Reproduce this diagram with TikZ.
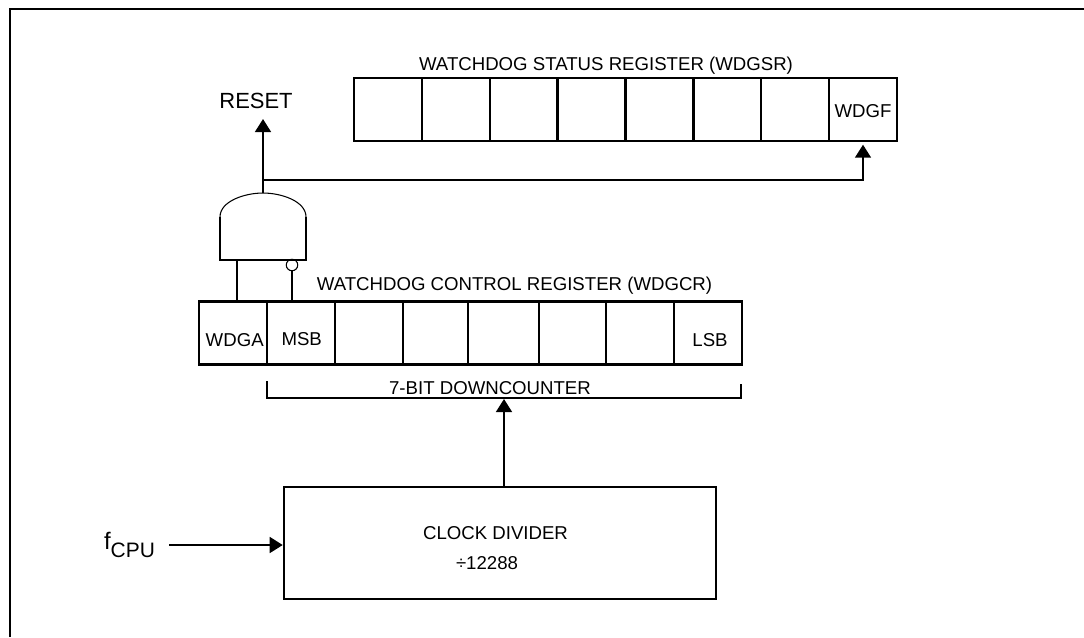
\documentclass[tikz,border=0pt]{standalone}
\usepackage{fontspec}
\setmainfont{Liberation Sans}
\usepackage{tikz}
\usetikzlibrary{arrows.meta}
\tikzset{
	wire/.style = {line width = 1.2pt},
	flow/.style = {wire, -{Triangle[length = 7.4pt, width = 9pt]}},
	regcell/.style = {draw, wire, rectangle, inner sep = 0pt, minimum height = 1.26cm},
	reglabel/.style = {inner sep = 0pt, font = \fontsize{10.6pt}{12pt}\selectfont, text height = 7.6pt, text depth = 0pt}
}
\begin{document}
\begin{tikzpicture}[x = 0.02cm, y = -0.02cm]
			\useasboundingbox (0,0) rectangle (1084,637);
			\draw[wire] (10,637) -- (10,9) -- (1084,9);
			% status register
			\node (sr1) at (388,109.5) [regcell, minimum width = 1.36cm] {};
			\node (sr2) at (456,109.5) [regcell, minimum width = 1.36cm] {};
			\node (sr3) at (523.7,109.5) [regcell, minimum width = 1.36cm] {};
			\node (sr4) at (591.5,109.5) [regcell, minimum width = 1.36cm] {};
			\node (sr5) at (659.5,109.5) [regcell, minimum width = 1.36cm] {};
			\node (sr6) at (727.3,109.5) [regcell, minimum width = 1.36cm] {};
			\node (sr7) at (795.2,109.5) [regcell, minimum width = 1.36cm] {};
			\node (wdgf) at (863,109.5) [regcell, minimum width = 1.36cm] {};
			\node (wdgftext) at (863,111) [reglabel] {WDGF};
			\node (srlabel) at (606,63.5) [reglabel] {WATCHDOG STATUS REGISTER (WDGSR)};
			% control register
			\node (wdga) at (233,333) [regcell, minimum width = 1.36cm] {};
			\node (msb) at (301,333) [regcell, minimum width = 1.36cm] {};
			\node (cr3) at (369,333) [regcell, minimum width = 1.36cm] {};
			\node (cr4) at (435.5,333) [regcell, minimum width = 1.30cm] {};
			\node (cr5) at (503.5,333) [regcell, minimum width = 1.42cm] {};
			\node (cr6) at (572.5,333) [regcell, minimum width = 1.34cm] {};
			\node (cr7) at (640,333) [regcell, minimum width = 1.36cm] {};
			\node (lsb) at (708,333) [regcell, minimum width = 1.36cm] {};
			\node (wdgatext) at (234.7,340) [reglabel] {WDGA};
			\node (msbtext) at (301.7,339) [reglabel] {MSB};
			\node (lsbtext) at (710,339.5) [reglabel] {LSB};
			\node (crlabel) at (514.5,283.5) [reglabel] {WATCHDOG CONTROL REGISTER (WDGCR)};
			% downcounter bracket
			\coordinate (cntleft) at (267,381);
			\coordinate (cntright) at (741,384);
			\coordinate (cnttip) at (504,399);
			\node (cntlabel) at (490,387.5) [reglabel] {7-BIT DOWNCOUNTER};
			\draw[wire] (cntleft) -- (267,398) -- (741,398) -- (cntright);
			% gate
			\coordinate (gatetop) at (263,193);
			\coordinate (gatea) at (237,260);
			\coordinate (gateb) at (292,260);
			\coordinate (join) at (263,180);
			\coordinate (resettip) at (263,119);
			\draw[wire] (220,217) -- (220,260) -- (306,260) -- (306,217);
			\draw[line width = 0.6pt] (220,217) .. controls (220,201) and (245,193) .. (gatetop) .. controls (281,193) and (306,201) .. (306,217);
			\node (bubble) at (292,265) [circle, draw, line width = 0.6pt, inner sep = 0pt, minimum size = 0.23cm] {};
			\node (reset) at (256,100.5) [inner sep = 0pt, font = \fontsize{12.5pt}{14pt}\selectfont] {RESET};
			\draw[wire] (gatea) -- (gatea |- wdga.north);
			\draw[wire] (bubble) -- (bubble |- msb.north);
			\draw[flow] (gatetop) -- (resettip);
			\draw[flow, shorten > = 1.5pt] (join) -| (wdgf.south);
			% clock
			\node (clock) at (500,542.7) [draw, wire, rectangle, minimum width = 8.65cm, minimum height = 2.24cm] {};
			\node (clocklabel) at (495.5,533) [reglabel] {CLOCK DIVIDER};
			\node (divlabel) at (487,563) [reglabel] {÷12288};
			\node (fcpu) at (129.5,545) [inner sep = 0pt, font = \fontsize{13.6pt}{15pt}\selectfont] {f\raisebox{-0.32em}{\fontsize{11.9pt}{13pt}\selectfont CPU}};
			\coordinate (fcpuend) at (169,545);
			\draw[flow] (fcpuend) -- (clock.west |- fcpuend);
			\draw[flow] (cnttip |- clock.north) -- (cnttip);
			\end{tikzpicture}
\end{document}
